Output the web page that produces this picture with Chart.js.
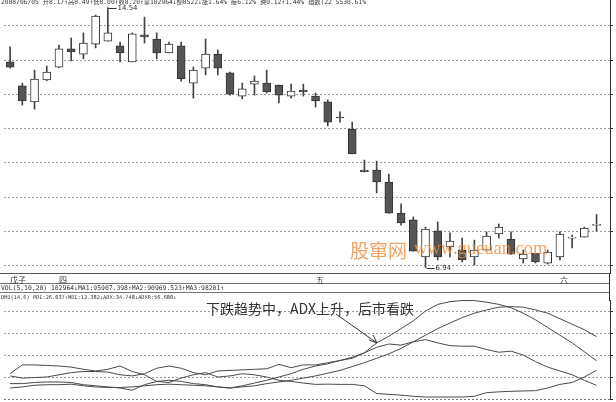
<!DOCTYPE html>
<html>
<head>
<meta charset="utf-8">
<script src="https://cdn.jsdelivr.net/npm/chart.js@4.4.1/dist/chart.umd.min.js"></script>
<style>
  html, body { margin: 0; padding: 0; background: #fff; }
  #wrap { position: relative; width: 616px; height: 402px; overflow: hidden; background: #fff; }
  canvas { position: absolute; left: 0; }
  .txt { position: absolute; white-space: nowrap; color: #333; }
  .hline { position: absolute; left: 0; width: 610px; height: 0; border-top: 1px solid #555; }
</style>
</head>
<body>
<div id="wrap">
  <canvas id="priceChart" width="616" height="274" style="top:0"></canvas>
  <canvas id="dmiChart" width="616" height="100" style="top:300px"></canvas>

  <div class="txt" id="header" style="left:1px; top:-3px; font:6.3px 'DejaVu Sans Mono','Noto Sans CJK SC';"></div>

  <div class="hline" style="top:273px"></div>
  <div class="hline" style="top:283px; border-color:#777"></div>
  <div class="hline" style="top:292px; border-color:#777"></div>
  <div style="position:absolute; left:609px; top:273px; width:0; height:28px; border-left:1px solid #333"></div>
  <div id="months"></div>

  <div class="txt" id="volText" style="left:1px; top:284px; font:6.4px 'DejaVu Sans Mono','Noto Sans CJK SC';"></div>
  <div class="txt" id="dmiText" style="left:1px; top:294px; font:5.3px 'DejaVu Sans Mono','Noto Sans CJK SC';"></div>

  <div class="txt" style="left:350px; top:236px; font:19px 'Noto Sans CJK SC'; color:rgba(238,140,60,0.8)">股窜网</div>
  <div class="txt" style="left:414px; top:238px; font:18.5px 'Liberation Serif'; color:rgba(238,140,60,0.8)">www.gueuan.com</div>

  <div class="txt" style="left:206px; top:298px; font:14px 'Noto Sans CJK SC'; color:#333">下跌趋势中，ADX上升，后市看跌</div>
  <svg style="position:absolute; left:0; top:0" width="616" height="402">
    <line x1="336" y1="314" x2="377" y2="343" stroke="#333" stroke-width="1"/>
    <polyline points="369,340 377,343 373,335" fill="none" stroke="#333" stroke-width="1"/>
  </svg>
</div>

<script>
// daily candles (price)
const open  = [12.95, 12.25, 11.78, 12.42, 12.80, 13.33, 13.18, 13.47, 13.56, 13.42,
               12.95, 13.74, 13.62, 13.21, 13.42, 12.33, 12.77, 13.18, 12.63, 11.95,
               12.30, 12.33, 12.27, 11.95, 12.13, 11.95, 11.78, 11.34, 10.99, 9.79,
               9.79, 9.44, 8.53, 8.33, 7.25, 8.01, 7.54, 7.45, 7.25, 7.45,
               7.92, 7.77, 7.19, 7.36, 7.07, 7.25, 7.80, 7.83, 8.17];
const high  = [13.39, 12.33, 12.71, 12.83, 13.44, 13.65, 13.80, 14.32, 14.54, 13.53,
               13.80, 14.26, 13.80, 13.53, 13.53, 12.80, 13.62, 13.30, 12.65, 12.33,
               12.54, 12.71, 12.27, 12.30, 12.30, 12.04, 11.84, 11.49, 11.19, 10.08,
               10.05, 9.67, 8.80, 8.42, 8.12, 8.27, 7.95, 7.80, 7.74, 7.98,
               8.21, 7.98, 7.45, 7.36, 7.45, 7.98, 7.89, 8.12, 8.49];
const low   = [12.77, 11.69, 11.57, 12.40, 12.78, 12.98, 13.04, 13.36, 13.56, 12.95,
               12.95, 13.50, 13.04, 13.21, 12.39, 11.89, 12.57, 12.57, 11.98, 11.87,
               11.98, 12.04, 11.75, 11.89, 11.95, 11.63, 11.08, 11.19, 10.26, 9.73,
               9.12, 8.53, 8.18, 7.42, 6.94, 7.16, 7.25, 7.10, 7.01, 7.45,
               7.80, 7.33, 7.07, 7.07, 7.04, 7.16, 7.51, 7.83, 8.00];
const close = [12.80, 11.81, 12.45, 12.65, 13.33, 13.24, 13.50, 14.29, 13.80, 13.21,
               13.77, 13.68, 13.21, 13.47, 12.45, 12.71, 13.18, 12.77, 12.01, 12.16,
               12.39, 12.07, 11.98, 12.10, 12.07, 11.81, 11.19, 11.31, 10.26, 9.74,
               9.44, 8.53, 8.24, 7.42, 8.06, 7.25, 7.71, 7.16, 7.45, 7.86,
               8.12, 7.33, 7.33, 7.10, 7.39, 7.92, 7.83, 8.09, 8.20];

// DMI(14,6)
const pdi  = [23, 31, 31, 30.5, 30, 29, 27, 25.5, 27, 30,
              25, 22, 16, 15, 19, 22, 24, 20, 21, 23,
              22, 20, 17, 16, 14.5, 13.3, 13.5, 13.3, 13.3, 12,
              5, 4.2, 3.5, 2.5, 1.8, 1.8, 1.8, 1.8, 2.5, 5.8,
              6.5, 7, 7.3, 7.6, 10, 13.3, 15, 20, 26.037];
const mdi  = [21, 19, 19.5, 20, 22, 24, 25, 25, 24.5, 22,
              21, 23, 28, 30, 28, 24, 22, 25.5, 26, 26.5,
              27, 27.5, 31.5, 28.5, 31, 31, 33, 35, 37, 42,
              47, 50, 49, 52, 54, 51, 48.5, 48, 48, 45,
              42.5, 43.5, 40, 34, 29, 25.5, 22, 17, 12.382];
const adx  = [14, 14, 15, 15.5, 15.5, 15, 13, 12, 11, 10,
              8, 13, 16, 17, 16, 14, 13, 11, 10, 12,
              14.5, 17, 20, 23, 27, 30, 32, 35, 38, 42,
              51, 57, 64, 71, 80, 86, 88.5, 89.5, 89.5, 88,
              86, 83, 78, 72, 65, 58, 51, 43, 34.748];
const adxr = [10, 11, 12.5, 13, 13, 13.5, 12, 11, 10.5, 10.5,
              11, 12, 13, 13.5, 13, 12.5, 12, 11, 10, 11,
              12, 14, 15.5, 17, 19, 21, 23.5, 26, 29.5, 33,
              37, 41, 46, 52, 58, 64, 69, 74, 78, 81,
              83.5, 84, 83.5, 81, 78, 73, 68, 63, 56.68];

const monthLabels = ['戊子', '四', '五', '六'];
const monthStarts = [0, 4, 25, 45];

const headerText = '2008/06/05 开8.17↑高8.49↑低8.00↑收8.20↑量102964↓额8522↓涨1.64% 振6.12% 换0.12↑1.44% 指数(22 5530.61%';
const volText = 'VOL(5,10,20) 102964↓MA1:95907.398↑MA2:90969.523↑MA3:98201↑';
const dmiText = 'DMI(14,6) PDI:26.037↑MDI:12.382↓ADX:34.748↓ADXR:56.680↓';

document.getElementById('header').textContent = headerText;
document.getElementById('volText').textContent = volText;
document.getElementById('dmiText').textContent = dmiText;

const xMin = -0.5, xMax = 49.1;

// high / low markers
const extremeLabels = {
    id: 'extremeLabels',
    afterDatasetsDraw(chart) {
        const {ctx, scales: {x, y}} = chart;
        const hi = high.indexOf(Math.max(...high));
        const lo = low.indexOf(Math.min(...low));
        ctx.save();
        ctx.strokeStyle = '#333';
        ctx.fillStyle = '#333';
        ctx.lineWidth = 1;
        ctx.font = '7px "DejaVu Sans"';
        ctx.textBaseline = 'middle';
        [[hi, high[hi]], [lo, low[lo]]].forEach(([i, v]) => {
            const px = Math.round(x.getPixelForValue(i)) + 0.5;
            const py = Math.round(y.getPixelForValue(v)) + 0.5;
            ctx.beginPath();
            ctx.moveTo(px, py);
            ctx.lineTo(px + 8, py);
            ctx.stroke();
            ctx.fillText(v.toFixed(2), px + 9, py);
        });
        ctx.restore();
    }
};

const priceCtx = document.getElementById('priceChart').getContext('2d');
const priceChart = new Chart(priceCtx, {
    type: 'bar',
    data: {
        datasets: [{
            label: 'body',
            data: open.map((o, i) => ({x: i, y: [o, close[i]]})),
            backgroundColor: open.map((o, i) => close[i] >= o ? '#ffffff' : '#555555'),
            borderColor: '#333',
            borderWidth: 1,
            borderSkipped: false,
            barThickness: 8,
            grouped: false,
            order: 0
        }, {
            label: 'wick',
            data: open.map((o, i) => ({x: i, y: [low[i], high[i]]})),
            backgroundColor: '#444',
            barThickness: 1,
            grouped: false,
            order: 1
        }]
    },
    options: {
        responsive: false,
        animation: false,
        layout: {padding: {left: 4, right: 3, top: 0, bottom: 0}},
        plugins: {legend: {display: false}, tooltip: {enabled: false}},
        scales: {
            x: {type: 'linear', offset: false, min: xMin, max: xMax, display: false},
            y: {
                position: 'right',
                min: 6.75,
                max: 14.76,
                ticks: {display: false, stepSize: 1, includeBounds: false},
                grid: {color: '#9a9a9a', lineWidth: 1, drawTicks: true, tickLength: 3, tickColor: '#333'},
                border: {display: true, color: '#333', width: 1, dash: [2, 2]}
            }
        }
    },
    plugins: [extremeLabels]
});

const dmiCtx = document.getElementById('dmiChart').getContext('2d');
const lineStyle = {borderColor: '#4a4a4a', borderWidth: 1, pointRadius: 0, tension: 0, fill: false};
const dmiChart = new Chart(dmiCtx, {
    type: 'line',
    data: {
        datasets: [
            {label: 'PDI', data: pdi.map((v, i) => ({x: i, y: v})), ...lineStyle},
            {label: 'MDI', data: mdi.map((v, i) => ({x: i, y: v})), ...lineStyle},
            {label: 'ADX', data: adx.map((v, i) => ({x: i, y: v})), ...lineStyle},
            {label: 'ADXR', data: adxr.map((v, i) => ({x: i, y: v})), ...lineStyle}
        ]
    },
    options: {
        responsive: false,
        animation: false,
        layout: {padding: {left: 4, right: 3, top: 0, bottom: 0}},
        plugins: {legend: {display: false}, tooltip: {enabled: false}},
        scales: {
            x: {type: 'linear', offset: false, min: xMin, max: xMax, display: false},
            y: {
                position: 'right',
                min: -0.9,
                max: 90,
                ticks: {display: false, stepSize: 20, includeBounds: false},
                grid: {
                    color: (c) => c.tick && c.tick.value === 0 ? '#777' : '#9a9a9a',
                    lineWidth: 1, drawTicks: true, tickLength: 3, tickColor: '#333'
                },
                border: {display: true, color: '#333', width: 1, dash: [2, 2]}
            }
        }
    }
});

// month labels in the band under the price panel
const monthsDiv = document.getElementById('months');
monthLabels.forEach((m, k) => {
    const px = priceChart.scales.x.getPixelForValue(monthStarts[k]);
    const d = document.createElement('div');
    d.className = 'txt';
    d.style.left = Math.round(px) + 'px';
    d.style.top = '274px';
    d.style.font = "8px 'Noto Sans CJK SC'";
    d.textContent = m;
    monthsDiv.appendChild(d);
});
</script>
</body>
</html>
